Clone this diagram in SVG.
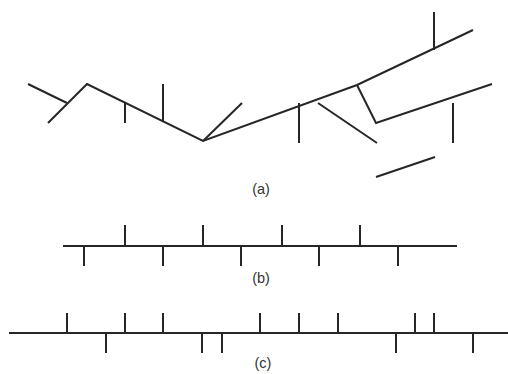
<svg xmlns="http://www.w3.org/2000/svg" width="508" height="374" viewBox="0 0 508 374">
<style>
.l{stroke:#262626;stroke-width:2;fill:none;stroke-linecap:butt}
.t{font-family:"Liberation Sans",Arial,sans-serif;font-size:14.5px;fill:#333;text-anchor:middle}
</style>
<rect width="508" height="374" fill="#fff"/>
<g id="a">
<polyline class="l" points="28,84 67,103"/>
<polyline class="l" points="48,123 87,84 203,141 357,85 473,30"/>
<line class="l" x1="125" y1="103" x2="125" y2="123"/>
<line class="l" x1="163" y1="84" x2="163" y2="122"/>
<line class="l" x1="203" y1="141" x2="242" y2="103"/>
<line class="l" x1="434" y1="12" x2="434" y2="50"/>
<polyline class="l" points="357,85 376,123 492,84"/>
<line class="l" x1="453" y1="103" x2="453" y2="143"/>
<line class="l" x1="299" y1="103" x2="299" y2="143"/>
<line class="l" x1="318" y1="103" x2="377" y2="143"/>
<line class="l" x1="376" y1="177" x2="435" y2="157"/>
<text class="t" x="261" y="194">(a)</text>
</g>
<g id="b">
<line class="l" x1="63" y1="246" x2="457" y2="246"/>
<path class="l" d="M125,225V246M203,225V246M282,225V246M360,225V246M84,246V266M163,246V266M241,246V266M319,246V266M398,246V266"/>
<text class="t" x="261" y="283">(b)</text>
</g>
<g id="c">
<line class="l" x1="9" y1="333" x2="508" y2="333"/>
<path class="l" d="M67,313V333M125,313V333M163,313V333M260,313V333M299,313V333M338,313V333M415,313V333M434,313V333M106,333V353M202,333V353M222,333V353M396,333V353M473,333V353"/>
<text class="t" x="263" y="368">(c)</text>
</g>
</svg>
